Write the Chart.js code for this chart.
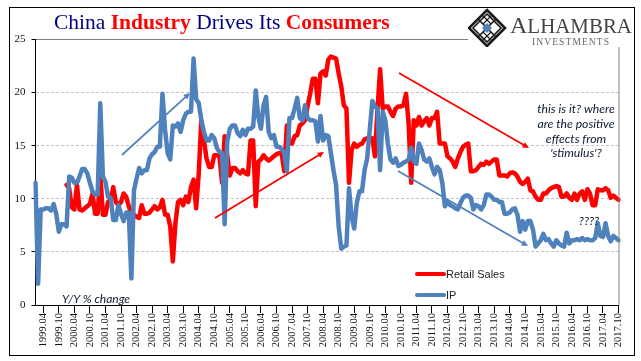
<!DOCTYPE html>
<html>
<head>
<meta charset="utf-8">
<title>China Industry Drives Its Consumers</title>
<script src="https://cdn.jsdelivr.net/npm/chart.js@4"></script>
<style>
    html, body { margin: 0; padding: 0; background: #fff; }
    #wrap { position: relative; width: 641px; height: 361px; overflow: hidden; }
    #frame { position: absolute; left: 9px; top: 7px; width: 624px; height: 347px; border: 1px solid #000; }
    canvas { position: absolute; left: 0; top: 0; }
    .txt { position: absolute; white-space: nowrap; }
    #title { left: 54px; top: 10px; font: 21.5px "Liberation Serif", serif; color: #000080; }
    #title b { color: #ff0000; }
    .note { font: italic 12.2px Lato, sans-serif; color: #0b1b33; text-align: center; }
    #logoBg { position: absolute; left: 468px; top: 8px; width: 164px; height: 39px; background: #fff; }
    #logo { position: absolute; left: 468px; top: 8px; }
    .swatch { position: absolute; height: 4px; border-radius: 2px; }
    .legendTxt { font: 11px "Liberation Sans", sans-serif; color: #222; }
</style>
</head>
<body>
<div id="wrap">
    <div id="frame"></div>
    <canvas id="chart" width="641" height="361"></canvas>
    <div id="title" class="txt">China <b>Industry</b> Drives Its <b>Consumers</b></div>
    <div id="logoBg"></div>
    <svg id="logo" width="164" height="39" viewBox="468 8 164 39">
        <g fill="none" stroke="#1a1a1a">
            <path d="M487 10 L505 28 L487 46 L469 28 Z" stroke-width="2.6"/>
            <path d="M478 19 L496 37 M496 19 L478 37 M487 14 L473 28 L487 42 L501 28 Z" stroke-width="1.6"/>
            <path d="M482 15 L491 24 M492 15 L483 24 M482 41 L491 32 M492 41 L483 32" stroke-width="1.2"/>
        </g>
        <path d="M487 23 L492 28 L487 33 L482 28 Z" fill="#4f81bd"/>
        <text x="510" y="33" font-family="Liberation Serif" font-size="23" fill="#444" textLength="122" lengthAdjust="spacingAndGlyphs">A<tspan font-size="20">LHAMBRA</tspan></text>
        <text x="532" y="44.5" font-family="Liberation Serif" font-size="9.5" fill="#666" textLength="77">INVESTMENTS</text>
    </svg>
    <div class="txt note" style="left:62px;top:291px;font-size:12px">Y/Y % change</div>
    <div class="txt note" style="left:526px;top:101px;width:100px">this is it? where</div>
    <div class="txt note" style="left:526px;top:116px;width:100px">are the positive</div>
    <div class="txt note" style="left:526px;top:131px;width:100px">effects from</div>
    <div class="txt note" style="left:526px;top:145px;width:100px">'stimulus'?</div>
    <div class="txt note" style="left:559px;top:213px;width:60px">????</div>
    <div class="swatch" style="left:415px;top:272px;width:31px;background:#ff0000"></div>
    <div class="swatch" style="left:415px;top:293px;width:31px;background:#4f81bd"></div>
    <div class="txt legendTxt" style="left:446px;top:268px">Retail Sales</div>
    <div class="txt legendTxt" style="left:446px;top:289px">IP</div>
</div>
<script>
const years = [1999,2000,2001,2002,2003,2004,2005,2006,2007,2008,2009,2010,2011,2012,2013,2014,2015,2016,2017];
const months = ['01','02','03','04','05','06','07','08','09','10','11','12'];
const tickMonths = ['04','10'];
const yTicks = [0,5,10,15,20,25];

const retailSales = [
    null,null,null,null,null,null,null,null,null,null,
    null,null,11.3,11.0,9.2,9.0,11.3,9.0,8.9,9.1,
    9.3,9.5,10.5,8.6,8.6,12.4,8.5,8.5,9.7,9.9,
    11.1,9.7,9.4,9.7,10.5,10.2,9.3,8.6,8.5,8.3,
    8.2,9.4,8.6,8.6,8.7,9.0,9.3,9.0,9.2,9.9,
    8.5,8.5,7.4,4.1,7.7,9.7,9.9,9.4,10.2,9.7,
    11.1,11.8,9.1,12.4,17.4,15.5,13.8,13.0,13.0,14.1,
    14.1,14.0,11.5,15.9,14.1,12.2,12.9,12.9,12.6,12.4,
    12.7,12.4,12.3,15.5,15.5,9.3,13.5,13.7,14.1,13.8,
    13.6,13.8,14.0,14.2,14.3,14.3,12.6,16.9,15.2,15.2,
    15.9,16.0,16.9,17.1,17.4,18.7,19.9,21.3,21.3,19.0,
    21.8,22.0,21.6,23.1,23.4,23.3,23.2,21.8,20.6,18.8,
    18.5,11.5,14.6,15.2,14.9,15.1,15.2,15.6,15.7,15.7,
    15.7,14.0,18.5,22.2,18.5,18.7,18.7,18.2,17.8,18.5,
    18.7,18.7,18.8,19.9,17.1,11.5,17.4,16.9,17.7,16.9,
    17.3,17.6,16.9,17.6,17.6,18.2,15.2,15.2,15.2,14.0,
    13.8,13.5,13.0,13.8,14.4,14.9,15.1,15.2,12.6,12.6,
    12.7,13.0,13.3,13.2,13.5,13.3,13.5,13.7,13.7,12.2,
    12.2,12.2,12.1,12.4,12.5,12.4,12.1,11.6,11.4,11.6,
    11.9,10.8,10.7,10.2,9.9,9.9,10.5,10.5,10.8,11.0,
    11.1,11.2,11.1,10.2,10.2,10.5,10.1,9.9,10.5,9.9,
    10.5,10.7,9.9,10.9,10.5,9.4,9.4,10.9,10.8,10.8,
    11.0,10.8,10.1,10.3,10.1,9.9
];

const ip = [
    11.5,2.0,9.0,9.0,9.1,9.1,8.9,9.5,8.6,6.9,
    7.6,7.6,7.4,12.1,12.0,11.5,11.5,12.1,12.8,12.8,
    12.4,11.5,10.7,10.4,10.4,19.0,12.1,11.6,10.2,10.1,
    8.0,8.0,9.4,8.6,7.9,8.7,8.7,2.5,10.8,11.9,
    12.9,12.4,12.7,12.7,13.8,14.2,14.4,14.9,14.9,19.9,
    16.5,14.3,13.7,16.9,16.8,17.1,16.3,17.4,18.0,18.2,
    18.2,23.2,19.4,19.0,17.4,16.3,15.5,15.5,16.0,15.7,
    14.8,14.4,14.3,7.6,15.4,16.6,16.9,16.9,16.2,15.9,
    16.5,16.0,16.6,16.6,16.8,20.2,17.7,16.6,18.8,19.6,
    16.3,15.7,16.0,14.9,14.9,14.7,14.3,12.6,17.6,17.6,
    18.5,19.5,17.6,17.4,18.8,17.6,17.4,17.4,17.3,15.4,
    17.8,15.5,16.0,15.9,14.3,12.7,11.3,7.4,5.3,5.5,
    5.6,11.0,8.3,7.2,9.6,10.7,10.7,12.7,13.8,16.5,
    19.2,18.7,18.5,12.7,18.2,17.4,15.2,13.7,13.4,13.8,
    13.1,13.2,13.4,13.5,13.7,14.8,13.5,13.3,15.2,14.6,
    13.7,13.5,13.8,13.0,12.3,13.0,12.7,11.5,9.3,9.7,
    9.4,9.3,9.1,9.0,9.6,10.1,10.3,10.3,10.1,9.0,
    9.4,9.3,9.0,9.4,10.4,10.4,10.2,9.9,9.9,9.7,
    9.7,8.6,8.6,8.7,9.0,9.1,8.5,6.9,7.9,7.1,
    7.9,7.9,7.1,5.5,5.8,6.1,6.7,6.1,6.2,5.8,
    5.5,6.1,5.8,5.6,5.5,6.8,5.8,6.1,6.1,6.2,
    6.1,6.3,6.1,6.2,6.1,6.1,6.3,7.7,6.5,6.4,
    7.7,6.5,6.0,6.5,6.3,6.1
];

// 1999.01 .. 2017.10
const labels = [];
years.forEach(y => months.forEach(m => { if (y < 2017 || m <= '10') labels.push(y + '.' + m); }));

// hand drawn arrows from the original
const arrows = [
    { color: '#4f81bd', x1: 122, y1: 155, x2: 190, y2: 93 },
    { color: '#ff0000', x1: 215, y1: 218, x2: 324, y2: 152 },
    { color: '#ff0000', x1: 399, y1: 73, x2: 529, y2: 148 },
    { color: '#4f81bd', x1: 398, y1: 171, x2: 528, y2: 246 }
];

const extras = {
    id: 'extras',
    afterDatasetsDraw(chart) {
        const ctx = chart.ctx, area = chart.chartArea;
        ctx.save();
        // right hand axis line
        ctx.strokeStyle = '#808080';
        ctx.lineWidth = 1;
        ctx.beginPath();
        ctx.moveTo(area.right + 0.5, area.top);
        ctx.lineTo(area.right + 0.5, area.bottom);
        ctx.stroke();
        arrows.forEach(a => {
            const ang = Math.atan2(a.y2 - a.y1, a.x2 - a.x1);
            ctx.strokeStyle = a.color;
            ctx.fillStyle = a.color;
            ctx.lineWidth = 1.75;
            ctx.beginPath();
            ctx.moveTo(a.x1, a.y1);
            ctx.lineTo(a.x2 - 4 * Math.cos(ang), a.y2 - 4 * Math.sin(ang));
            ctx.stroke();
            ctx.beginPath();
            ctx.moveTo(a.x2, a.y2);
            ctx.lineTo(a.x2 - 7 * Math.cos(ang - 0.45), a.y2 - 7 * Math.sin(ang - 0.45));
            ctx.lineTo(a.x2 - 7 * Math.cos(ang + 0.45), a.y2 - 7 * Math.sin(ang + 0.45));
            ctx.closePath();
            ctx.fill();
        });
        ctx.restore();
    }
};

new Chart(document.getElementById('chart').getContext('2d'), {
    type: 'line',
    data: {
        labels: labels,
        datasets: [
            { label: 'IP', data: ip, borderColor: '#4f81bd', order: 1 },
            { label: 'Retail Sales', data: retailSales, borderColor: '#ff0000', order: 2 }
        ]
    },
    plugins: [extras],
    options: {
        responsive: false,
        animation: false,
        devicePixelRatio: 1,
        layout: { autoPadding: false, padding: { top: 39.5, right: 22.5, left: 0, bottom: 0 } },
        elements: {
            point: { radius: 0 },
            line: { borderWidth: 4.5, tension: 0, borderJoinStyle: 'round', borderCapStyle: 'round' }
        },
        plugins: { legend: { display: false }, title: { display: false }, tooltip: { enabled: false } },
        scales: {
            x: {
                type: 'category',
                afterFit: s => { s.height = 56; },
                afterBuildTicks: s => {
                    s.ticks = s.ticks.filter(t => tickMonths.includes(labels[t.value].slice(5)));
                },
                grid: { display: true, drawOnChartArea: false, tickLength: 8, tickColor: '#000', tickWidth: 1 },
                border: { display: true, color: '#000', width: 1 },
                ticks: {
                    autoSkip: false, minRotation: 90, maxRotation: 90, padding: 0,
                    color: '#111',
                    font: { family: '"Liberation Serif", serif', size: 10.5 },
                    callback: function (v) { return this.getLabelForValue(v); }
                }
            },
            y: {
                min: 0, max: 25,
                afterFit: s => { s.width = 35.5; },
                afterBuildTicks: s => { s.ticks = yTicks.map(v => ({ value: v })); },
                grid: {
                    display: true, drawOnChartArea: true, tickLength: 4, tickColor: '#000',
                    color: c => c.tick && c.tick.value === 25 ? '#808080' : (c.tick && c.tick.value === 0 ? 'transparent' : '#c4c4c4')
                },
                border: {
                    display: true, color: '#000', width: 1,
                    dash: c => c.tick && c.tick.value === 25 ? [] : [3, 2]
                },
                ticks: {
                    padding: 6, color: '#111',
                    font: { family: '"Liberation Serif", serif', size: 11 }
                }
            }
        }
    }
});
</script>
</body>
</html>
